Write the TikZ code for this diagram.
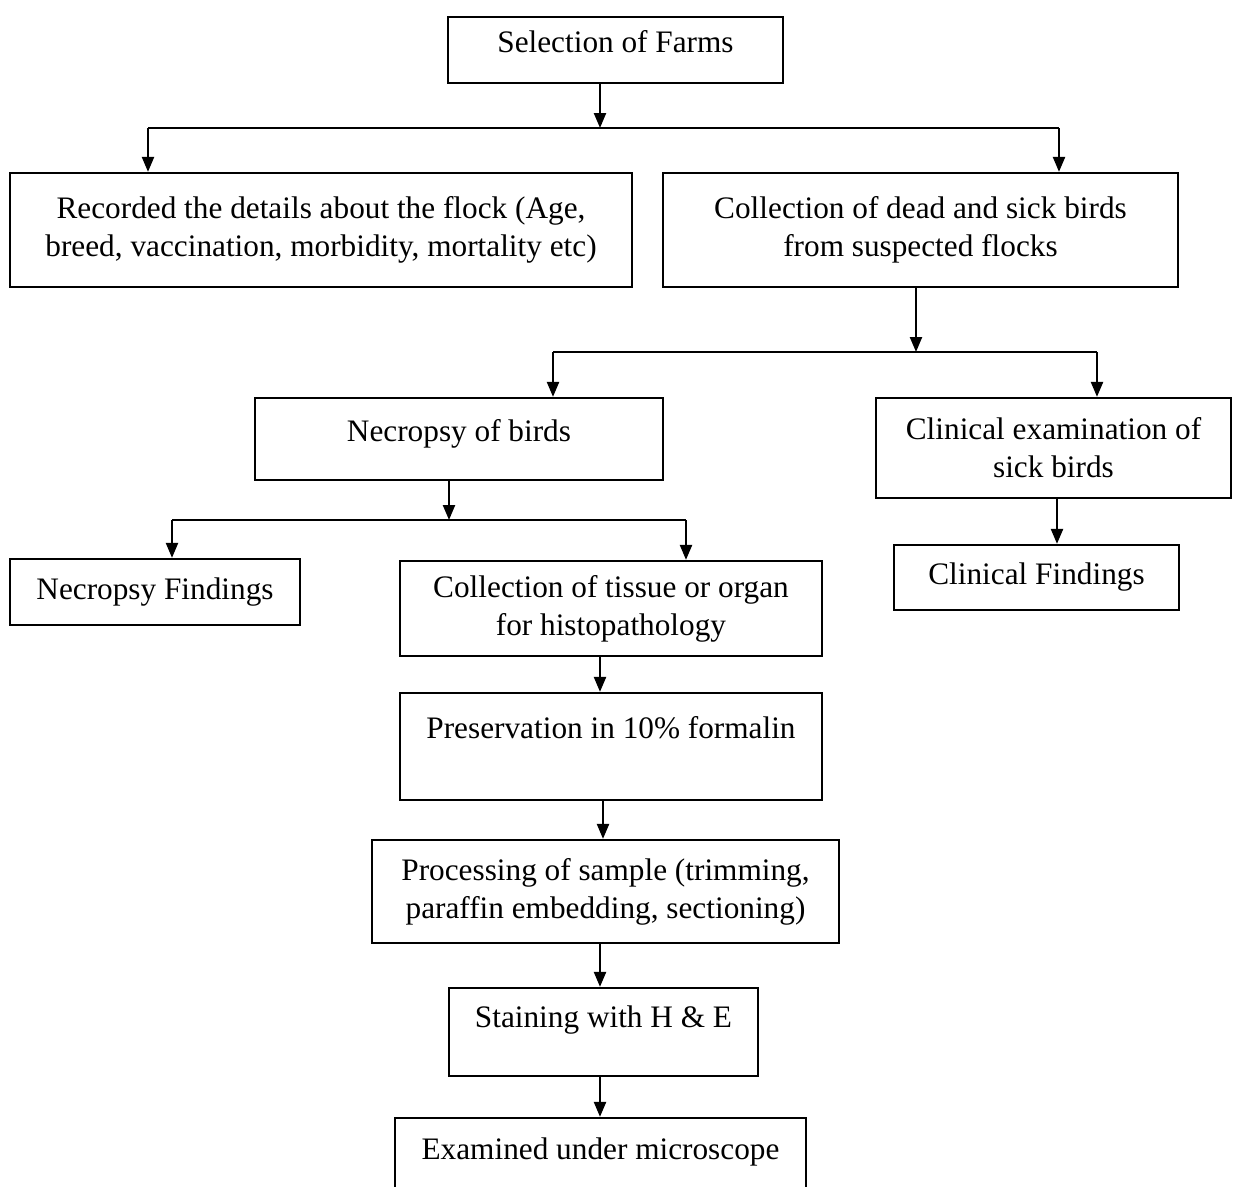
\documentclass[tikz,border=0pt]{standalone}
\usepackage{fontspec}
\setmainfont{Liberation Serif}
\usetikzlibrary{arrows.meta}
\tikzset{
  stepbox/.style={rectangle,draw,line width=1.3pt,align=center,inner sep=2pt,
    font=\fontsize{17.8}{21.5}\selectfont},
}
\begin{document}
\begin{tikzpicture}[x=0.02cm,y=-0.02cm,>={Triangle[length=3mm,width=2.4mm]},line width=1.3pt]
    \clip (0,0) rectangle (1238,1187);
    % boxes
    \node[stepbox,minimum width=6.70cm,minimum height=1.32cm] (farms) at (615.5,50) {Selection of Farms\\[-12pt]\mbox{}};
    \node[stepbox,minimum width=12.44cm,minimum height=2.28cm] (rec) at (321,230) {Recorded the details about the flock (Age,\\breed, vaccination, morbidity, mortality etc)};
    \node[stepbox,minimum width=10.30cm,minimum height=2.28cm] (coll) at (920.5,230) {Collection of dead and sick birds\\from suspected flocks};
    \node[stepbox,minimum width=8.16cm,minimum height=1.64cm] (necro) at (459,439) {Necropsy of birds\\[-12pt]\mbox{}};
    \node[stepbox,minimum width=7.10cm,minimum height=2.00cm] (clin) at (1053.5,448) {Clinical examination of\\sick birds};
    \node[stepbox,minimum width=5.80cm,minimum height=1.32cm] (nfind) at (155,592) {Necropsy Findings};
    \node[stepbox,minimum width=8.44cm,minimum height=1.90cm] (tissue) at (611,608.5) {Collection of tissue or organ\\for histopathology};
    \node[stepbox,minimum width=5.70cm,minimum height=1.30cm] (cfind) at (1036.5,577.5) {Clinical Findings};
    \node[stepbox,minimum width=8.44cm,minimum height=2.14cm] (pres) at (611,746.5) {Preservation in 10\% formalin\\\mbox{}};
    \node[stepbox,minimum width=9.34cm,minimum height=2.06cm] (proc) at (605.5,891.5) {Processing of sample (trimming,\\paraffin embedding, sectioning)};
    \node[stepbox,minimum width=6.18cm,minimum height=1.76cm] (stain) at (603.5,1032) {Staining with H \& E\\[-4pt]\mbox{}};
    \node[stepbox,minimum width=8.22cm,minimum height=2.00cm] (exam) at (600.5,1168) {Examined under microscope\\\mbox{}};
    % branch points
    \coordinate (j1) at (600,128);
    \coordinate (j1l) at (148,128);
    \coordinate (j1r) at (1059,128);
    \coordinate (j2) at (916,352);
    \coordinate (j2l) at (553,352);
    \coordinate (j2r) at (1097,352);
    \coordinate (j3) at (449,520);
    \coordinate (j3l) at (172,520);
    \coordinate (j3r) at (686,520);
    % arrows
    \draw[->] (farms.south -| j1) -- (j1);
    \draw (j1l) -- (j1r);
    \draw[->] (j1l) -- (j1l |- rec.north);
    \draw[->] (j1r) -- (j1r |- coll.north);
    \draw[->] (coll.south -| j2) -- (j2);
    \draw (j2l) -- (j2r);
    \draw[->] (j2l) -- (j2l |- necro.north);
    \draw[->] (j2r) -- (j2r |- clin.north);
    \draw[->] (necro.south -| j3) -- (j3);
    \draw (j3l) -- (j3r);
    \draw[->] (j3l) -- (j3l |- nfind.north);
    \draw[->] (j3r) -- (j3r |- tissue.north);
    \draw[->] (clin.south -| 1057,0) -- (cfind.north -| 1057,0);
    \draw[->] (tissue.south -| 600,0) -- (pres.north -| 600,0);
    \draw[->] (pres.south -| 603,0) -- (proc.north -| 603,0);
    \draw[->] (proc.south -| 600,0) -- (stain.north -| 600,0);
    \draw[->] (stain.south -| 600,0) -- (exam.north -| 600,0);
  \end{tikzpicture}
\end{document}
